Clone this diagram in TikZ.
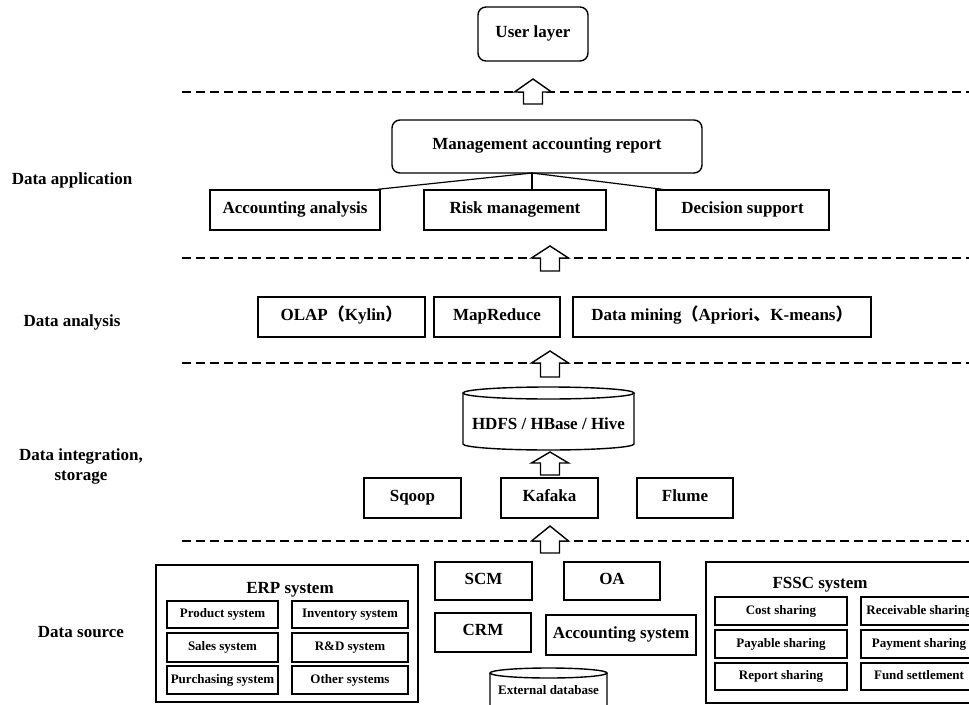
\documentclass[tikz,border=0pt]{standalone}
\usepackage{fontspec}
\setmainfont{Liberation Serif}
\newfontfamily\cjk{Noto Sans CJK SC}
\usetikzlibrary{calc}
\newcommand\bx[7][box]{\node[#1,minimum width={#5-#3},minimum height={#6-#4}] (#2) at ({(#3+#5)/2},{(#4+#6)/2}) {#7};}
\newcommand\blockup[4]{\draw[barrow] (#1,#2) -- (#1+18.5,#3) -- (#1+9.5,#3) -- (#1+9.5,#4) -- (#1-9.5,#4) -- (#1-9.5,#3) -- (#1-18.5,#3) -- cycle;}
\begin{document}
\begin{tikzpicture}[x=1pt,y=-1pt,
  box/.style={draw, line width=1.4pt, inner sep=0pt, text height=0.66em, text depth=0pt, font=\fontsize{17}{19}\selectfont\bfseries},
  rbox/.style={box, rounded corners=8pt},
  sbox/.style={draw, line width=1.8pt, inner sep=0pt, text height=0.66em, text depth=0pt, font=\fontsize{13}{15}\selectfont\bfseries},
  frame/.style={draw, line width=1.4pt, inner sep=0pt},
  lbl/.style={font=\fontsize{17}{20}\selectfont\bfseries, align=center, inner sep=0pt},
  slbl/.style={font=\fontsize{13}{15}\selectfont\bfseries, inner sep=0pt},
  sep/.style={line width=2pt, dash pattern=on 9pt off 5pt},
  conn/.style={line width=1.2pt},
  cyl/.style={line width=1.4pt},
  barrow/.style={draw, line width=1.4pt, fill=white, line join=miter}]
\useasboundingbox (0,0) rectangle (969,704);
\fill[white] (0,0) rectangle (969,704);

% left layer labels
\node[lbl] (lapp) at (72,180) {Data application};
\node[lbl] (lana) at (72,322) {Data analysis};
\node[lbl] (lint) at (81,466) {Data integration,\\storage};
\node[lbl] (lsrc) at (81,632) {Data source};

% dashed separators
\draw[sep] (182,92) -- (975,92);
\draw[sep] (182,258) -- (975,258);
\draw[sep] (182,363) -- (975,363);
\draw[sep] (182,541) -- (975,541);

% user layer
\bx[rbox]{user}{478}{7}{588}{61}{User layer}

% data application
\bx[rbox]{mar}{392}{120}{702}{173}{Management accounting report}
\bx{acc}{210}{190}{380}{230}{Accounting analysis}
\bx{risk}{424}{190}{606}{230}{Risk management}
\bx{dec}{656}{190}{829}{230}{Decision support}
\coordinate (j) at (532,173);
\draw[conn] (j) -- ($(acc.north east)+(-3,0)$);
\draw[conn] (j) -- (j |- risk.north);
\draw[conn] (j) -- ($(dec.north west)+(7,0)$);

% data analysis
\bx{olap}{258}{297}{425}{337}{OLAP{\cjk （}Kylin{\cjk ）}}
\bx{mapr}{434}{297}{560}{337}{MapReduce}
\bx{mine}{573}{297}{871}{337}{Data mining{\cjk （}Apriori{\cjk 、}K-means{\cjk ）}}

% storage cylinder
\draw[cyl] (463,393) -- (463,444) arc[start angle=180, end angle=0, x radius=85.5, y radius=6] -- (634,393);
\draw[cyl] (548.5,393) ellipse[x radius=85.5, y radius=6];
\node[lbl] (hdfs) at (548.5,424) {HDFS / HBase / Hive};

% integration tools
\bx{sqoop}{364}{478}{461}{518}{Sqoop}
\bx{kafka}{501}{478}{598}{518}{Kafaka}
\bx{flume}{637}{478}{733}{518}{Flume}

% block arrows
\blockup{533}{79}{92}{104}
\blockup{550}{246}{258}{271}
\blockup{550}{351}{363}{377}
\blockup{550}{452}{463}{475}
\blockup{550}{526}{541}{553}

% ERP system
\bx[frame]{erp}{156}{565}{418}{702}{}
\node[lbl] (erpt) at (290,590) {ERP system};
\bx[sbox]{prod}{167}{601}{278}{628}{Product system}
\bx[sbox]{inv}{292}{601}{408}{628}{Inventory system}
\bx[sbox]{sales}{167}{633}{278}{662}{Sales system}
\bx[sbox]{rd}{292}{633}{408}{662}{R\&D system}
\bx[sbox]{purch}{167}{666}{278}{694}{Purchasing system}
\bx[sbox]{other}{292}{666}{408}{694}{Other systems}

% middle sources
\bx{scm}{435}{562}{532}{600}{SCM}
\bx{oa}{564}{562}{660}{600}{OA}
\bx{crm}{435}{613}{531}{652}{CRM}
\bx{accs}{546}{615}{696}{655}{Accounting system}
\draw[cyl] (490,673) -- (490,720) arc[start angle=180, end angle=0, x radius=58.5, y radius=5] -- (607,673);
\draw[cyl] (548.5,673) ellipse[x radius=58.5, y radius=5];
\node[slbl] (ext) at (548.5,690) {External database};

% FSSC system
\bx[frame]{fssc}{706}{562}{990}{703}{}
\node[lbl] (fssct) at (820,585) {FSSC system};
\bx[sbox]{cost}{715}{597}{847}{625}{Cost sharing}
\bx[sbox]{recv}{861}{597}{977}{625}{Receivable sharing}
\bx[sbox]{pay}{715}{630}{847}{658}{Payable sharing}
\bx[sbox]{pmt}{861}{630}{977}{658}{Payment sharing}
\bx[sbox]{rep}{715}{663}{847}{690}{Report sharing}
\bx[sbox]{fund}{861}{663}{977}{690}{Fund settlement}
\end{tikzpicture}
\end{document}
